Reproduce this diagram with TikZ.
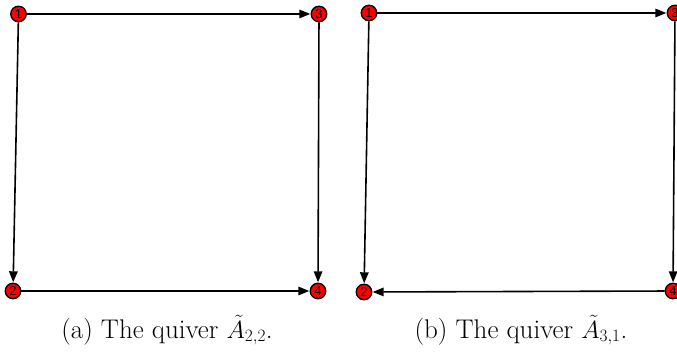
\documentclass[tikz,border=0pt]{standalone}
\usepackage{fontspec}
\newfontfamily\labfont{Liberation Sans}
\usetikzlibrary{arrows.meta}
\tikzset{
  vtx/.style={circle, draw=black, line width=1.3pt, fill=red, minimum size=15.5pt, inner sep=0pt, font=\labfont\fontsize{13}{13}\selectfont},
  edge/.style={line width=1.6pt, -{Triangle[length=11pt,width=8.5pt]}, shorten >=0.3pt},
  captext/.style={font=\fontsize{27}{30}\selectfont, anchor=base}
}
\begin{document}
\begin{tikzpicture}[x=1pt,y=-1pt]
\useasboundingbox (0,0) rectangle (677,352);
% (a)
\node[vtx] (a1) at (18.5,14) {1};
\node[vtx] (a3) at (319,14) {3};
\node[vtx] (a2) at (13,291) {2};
\node[vtx] (a4) at (318,291) {4};
\draw[edge] (a1) -- (a3);
\draw[edge] (a1) -- (a2);
\draw[edge] (a3) -- (a4);
\draw[edge] (a2) -- (a4);
% (b)
\node[vtx] (b1) at (369,13) {1};
\node[vtx] (b3) at (675,13) {3};
\node[vtx] (b2) at (364,292) {2};
\node[vtx] (b4) at (673,291) {4};
\draw[edge] (b1) -- (b3);
\draw[edge] (b1) -- (b2);
\draw[edge] (b3) -- (b4);
\draw[edge] (b4) -- (b2);
% captions
\node[captext] (ca) at (167,338) {(a) The quiver $\tilde{A}_{2,2}$.};
\node[captext] (cb) at (521,338) {(b) The quiver $\tilde{A}_{3,1}$.};
\end{tikzpicture}
\end{document}
